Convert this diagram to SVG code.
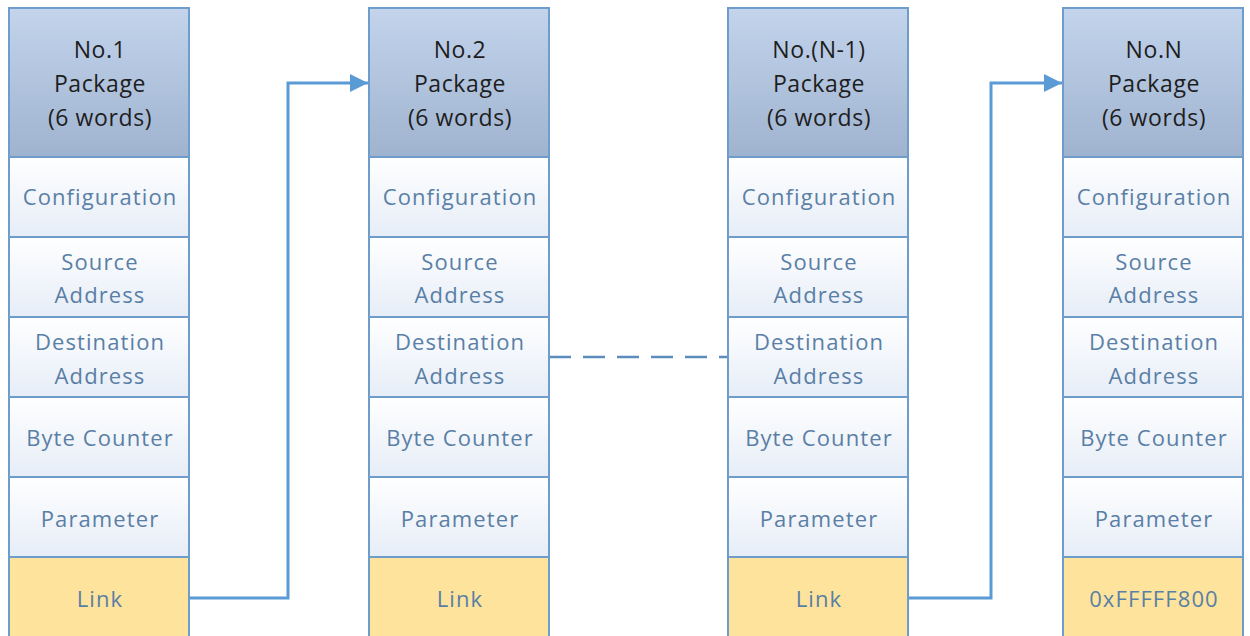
<svg xmlns="http://www.w3.org/2000/svg" width="1250" height="636" viewBox="0 0 1250 636">
<defs>
<linearGradient id="hd" x1="0" y1="0" x2="0" y2="1"><stop offset="0" stop-color="#c3d4ec"/><stop offset="1" stop-color="#9fb3cf"/></linearGradient>
<linearGradient id="rw" x1="0" y1="0" x2="0" y2="1"><stop offset="0" stop-color="#ffffff"/><stop offset="1" stop-color="#e6edf7"/></linearGradient>
<marker id="ah" markerWidth="18" markerHeight="18" refX="16" refY="8" orient="auto" markerUnits="userSpaceOnUse" viewBox="0 0 16 16"><path d="M0,0 L16,8 L0,16 z" fill="#5b9bd5"/></marker>
<style>
.h{fill:url(#hd);stroke:#6e9dcc;stroke-width:2}
.r{fill:url(#rw);stroke:#6e9dcc;stroke-width:2}
.l{fill:#fde39c;stroke:#6e9dcc;stroke-width:2}
.ht{font-family:"Open Sans","Liberation Sans",sans-serif;font-size:23px;fill:#1e1e1e;text-anchor:middle;letter-spacing:0.6px}
.t{font-family:"Open Sans","Liberation Sans",sans-serif;font-size:22px;fill:#5a7fa6;text-anchor:middle;letter-spacing:1.1px}
.c{fill:none;stroke:#5b9bd5;stroke-width:3}
</style>
</defs>
<g id="connectors">
<path class="c" d="M189,598 H288 V83 H368" marker-end="url(#ah)"/>
<path class="c" d="M908,598 H991 V83 H1062" marker-end="url(#ah)"/>
<path d="M549,357 H728" fill="none" stroke="#5d8dbd" stroke-width="2.5" stroke-dasharray="22,12"/>
</g>
<g id="pkg1">
<rect class="h" x="9" y="8" width="180" height="149"/>
<rect class="r" x="9" y="157" width="180" height="80"/>
<rect class="r" x="9" y="237" width="180" height="80"/>
<rect class="r" x="9" y="317" width="180" height="80"/>
<rect class="r" x="9" y="397" width="180" height="80"/>
<rect class="r" x="9" y="477" width="180" height="80"/>
<rect class="l" x="9" y="557" width="180" height="85"/>
<text class="ht" x="100" y="58">No.1</text><text class="ht" x="100" y="92">Package</text><text class="ht" x="100" y="126">(6 words)</text>
<text class="t" x="100" y="205">Configuration</text>
<text class="t" x="100" y="270">Source</text><text class="t" x="100" y="303">Address</text>
<text class="t" x="100" y="350">Destination</text><text class="t" x="100" y="384">Address</text>
<text class="t" x="100" y="446">Byte Counter</text>
<text class="t" x="100" y="527">Parameter</text>
<text class="t" x="100" y="607">Link</text>
</g>
<g id="pkg2">
<rect class="h" x="369" y="8" width="180" height="149"/>
<rect class="r" x="369" y="157" width="180" height="80"/>
<rect class="r" x="369" y="237" width="180" height="80"/>
<rect class="r" x="369" y="317" width="180" height="80"/>
<rect class="r" x="369" y="397" width="180" height="80"/>
<rect class="r" x="369" y="477" width="180" height="80"/>
<rect class="l" x="369" y="557" width="180" height="85"/>
<text class="ht" x="460" y="58">No.2</text><text class="ht" x="460" y="92">Package</text><text class="ht" x="460" y="126">(6 words)</text>
<text class="t" x="460" y="205">Configuration</text>
<text class="t" x="460" y="270">Source</text><text class="t" x="460" y="303">Address</text>
<text class="t" x="460" y="350">Destination</text><text class="t" x="460" y="384">Address</text>
<text class="t" x="460" y="446">Byte Counter</text>
<text class="t" x="460" y="527">Parameter</text>
<text class="t" x="460" y="607">Link</text>
</g>
<g id="pkgN1">
<rect class="h" x="728" y="8" width="180" height="149"/>
<rect class="r" x="728" y="157" width="180" height="80"/>
<rect class="r" x="728" y="237" width="180" height="80"/>
<rect class="r" x="728" y="317" width="180" height="80"/>
<rect class="r" x="728" y="397" width="180" height="80"/>
<rect class="r" x="728" y="477" width="180" height="80"/>
<rect class="l" x="728" y="557" width="180" height="85"/>
<text class="ht" x="819" y="58">No.(N-1)</text><text class="ht" x="819" y="92">Package</text><text class="ht" x="819" y="126">(6 words)</text>
<text class="t" x="819" y="205">Configuration</text>
<text class="t" x="819" y="270">Source</text><text class="t" x="819" y="303">Address</text>
<text class="t" x="819" y="350">Destination</text><text class="t" x="819" y="384">Address</text>
<text class="t" x="819" y="446">Byte Counter</text>
<text class="t" x="819" y="527">Parameter</text>
<text class="t" x="819" y="607">Link</text>
</g>
<g id="pkgN">
<rect class="h" x="1063" y="8" width="180" height="149"/>
<rect class="r" x="1063" y="157" width="180" height="80"/>
<rect class="r" x="1063" y="237" width="180" height="80"/>
<rect class="r" x="1063" y="317" width="180" height="80"/>
<rect class="r" x="1063" y="397" width="180" height="80"/>
<rect class="r" x="1063" y="477" width="180" height="80"/>
<rect class="l" x="1063" y="557" width="180" height="85"/>
<text class="ht" x="1154" y="58">No.N</text><text class="ht" x="1154" y="92">Package</text><text class="ht" x="1154" y="126">(6 words)</text>
<text class="t" x="1154" y="205">Configuration</text>
<text class="t" x="1154" y="270">Source</text><text class="t" x="1154" y="303">Address</text>
<text class="t" x="1154" y="350">Destination</text><text class="t" x="1154" y="384">Address</text>
<text class="t" x="1154" y="446">Byte Counter</text>
<text class="t" x="1154" y="527">Parameter</text>
<text class="t" x="1154" y="607">0xFFFFF800</text>
</g>
</svg>
